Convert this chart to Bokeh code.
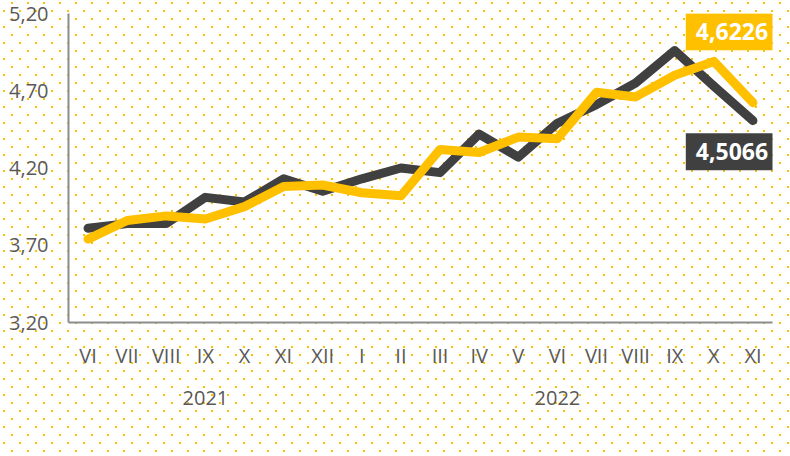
from bokeh.plotting import figure
from bokeh.models import (FactorRange, Range1d, ColumnDataSource, Label, Legend,
                          LegendItem, FixedTicker, LinearAxis, GlobalInlineStyleSheet)
from bokeh.embed import file_html
from bokeh.resources import INLINE

# ---------------- data ----------------
years = ["2021", "2022"]
months_2021 = ["VI", "VII", "VIII", "IX", "X", "XI", "XII"]
months_2022 = ["I", "II", "III", "IV", "V", "VI", "VII", "VIII", "IX", "X", "XI"]
end_of_month = [3.81, 3.84, 3.84, 4.01, 3.98, 4.13, 4.05, 4.13, 4.20, 4.17, 4.42, 4.27,
                4.49, 4.61, 4.75, 4.96, 4.73, 4.5066]
monthly_avg = [3.74, 3.86, 3.89, 3.87, 3.95, 4.08, 4.09, 4.04, 4.02, 4.32, 4.30, 4.40,
               4.39, 4.69, 4.66, 4.80, 4.89, 4.6226]
series_names = ["na koniec miesiąca", "średnia miesięczna"]
y_ticks = [3.20, 3.70, 4.20, 4.70, 5.20]
y_tick_labels = ["3,20", "3,70", "4,20", "4,70", "5,20"]

# ---------------- styles ----------------
DARK = "#404040"
YELLOW = "#FFC000"
AXIS = "#8c8c8c"
TEXT = "#595959"
FONT = "Open Sans"

groups = [(years[0], m) for m in months_2021] + [(years[1], m) for m in months_2022]
n = len(groups)

src = ColumnDataSource(dict(x=groups, end=end_of_month, avg=monthly_avg))

p = figure(x_range=FactorRange(*groups, factor_padding=0, group_padding=0, range_padding=0),
           y_range=Range1d(y_ticks[0], y_ticks[-1]),
           frame_width=704, frame_height=309,
           min_border_left=68, min_border_right=2, min_border_top=13, min_border_bottom=118,
           output_backend="svg", toolbar_location=None)

p.background_fill_color = None
p.border_fill_color = None
p.outline_line_color = None
p.xgrid.visible = False
p.ygrid.visible = False

# y axis
p.yaxis.ticker = FixedTicker(ticks=y_ticks)
p.yaxis.major_label_overrides = {t: l for t, l in zip(y_ticks, y_tick_labels)}
p.yaxis.axis_line_color = AXIS
p.yaxis.axis_line_width = 2
p.yaxis.major_tick_line_color = None
p.yaxis.major_tick_out = 0
p.yaxis.minor_tick_line_color = None
p.yaxis.major_label_standoff = 20
p.yaxis.major_label_text_font = FONT
p.yaxis.major_label_text_font_size = "20px"
p.yaxis.major_label_text_color = TEXT

# x axis (months + years)
xa = p.xaxis[0]
xa.axis_line_color = AXIS
xa.axis_line_width = 2
xa.major_tick_line_color = None
xa.major_tick_out = 0
xa.minor_tick_line_color = None
xa.separator_line_color = None
xa.major_label_standoff = 19
xa.major_label_text_font = FONT
xa.major_label_text_font_size = "20px"
xa.major_label_text_color = TEXT
xa.group_text_font = FONT
xa.group_text_font_size = "20px"
xa.group_text_color = TEXT
xa.group_text_font_style = "normal"

# category separators: tick-only axes pinned at the bottom of the frame,
# ticks at the boundaries between categories on the factor range
long_bounds = [0, len(months_2021), n]
short_bounds = [b for b in range(n + 1) if b not in long_bounds]
for ticks, length in [(short_bounds, 46), (long_bounds, 91)]:
    ax = LinearAxis(ticker=FixedTicker(ticks=ticks),
                    fixed_location=y_ticks[0], major_tick_in=0, major_tick_out=length,
                    major_tick_line_color=AXIS, major_tick_line_width=2,
                    minor_tick_line_color=None, axis_line_color=None,
                    major_label_text_color=None, major_label_text_font_size="1px")
    p.add_layout(ax, "below")

# lines
r_end = p.line("x", "end", source=src, line_color=DARK, line_width=9,
               line_cap="round", line_join="round")
r_avg = p.line("x", "avg", source=src, line_color=YELLOW, line_width=9,
               line_cap="round", line_join="round")

# value labels for last points (x = centre of last category on the factor range)
last_x = n - 0.5

def fmt(v):
    return f"{v:.4f}".replace(".", ",")

for val, col, dy in [(monthly_avg[-1], YELLOW, 71), (end_of_month[-1], DARK, -31)]:
    p.add_layout(Label(x=last_x, y=val, text=fmt(val),
                       x_offset=-21, y_offset=dy, text_align="center", text_baseline="middle",
                       text_color="white", text_font=FONT, text_font_style="bold",
                       text_font_size="23px", background_fill_color=col, padding=10))

legend = Legend(items=[LegendItem(label=series_names[0], renderers=[r_end]),
                       LegendItem(label=series_names[1], renderers=[r_avg])],
                orientation="horizontal", location=(17, -118),
                glyph_width=60, glyph_height=20, label_standoff=2, spacing=45,
                padding=0, margin=0, border_line_color=None, background_fill_alpha=0,
                label_text_font=FONT, label_text_font_size="20px", label_text_color=TEXT)
p.add_layout(legend)

css = ("body { background-color: #ffffff; background-image: url(\"data:image/svg+xml;utf8,"
       "<svg xmlns='http://www.w3.org/2000/svg' width='16' height='16'>"
       "<rect x='11' y='2' width='2' height='2' fill='%23FFC000'/>"
       "<rect x='3' y='10' width='2' height='2' fill='%23FFC000'/></svg>\");"
       " background-repeat: repeat; }")
p.stylesheets = [GlobalInlineStyleSheet(css=css)]

open("out.html", "w").write(file_html(p, INLINE))
